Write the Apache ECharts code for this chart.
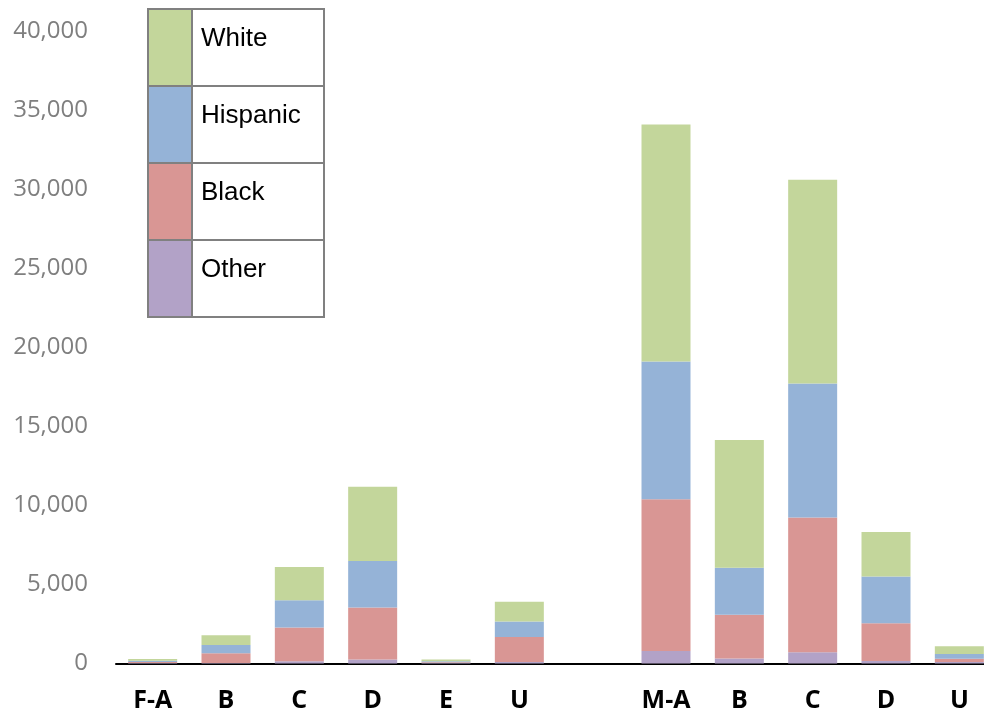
<!DOCTYPE html>
<html>
<head>
<meta charset="utf-8">
<script src="https://cdn.jsdelivr.net/npm/echarts@6/dist/echarts.min.js"></script>
<style>html,body{margin:0;padding:0;background:#fff}#c{width:984px;height:714px}</style>
</head>
<body>
<div id="c"></div>
<script>
const categories = ['F-A','B','C','D','E','U','','M-A','B','C','D','U'];
const other    = [30, 30, 150, 260, 30, 90, null, 790, 310, 710, 160, 90];
const black    = [60, 620, 2120, 3280, 50, 1590, null, 9600, 2780, 8520, 2390, 210];
const hispanic = [90, 525, 1735, 2950, 70, 970, null, 8710, 2970, 8480, 2950, 300];
const white    = [110, 615, 2100, 4680, 110, 1250, null, 14980, 8080, 12890, 2810, 490];
const yTicks = [0, 5000, 10000, 15000, 20000, 25000, 30000, 35000, 40000];

const seriesDefs = [
  {name: 'Other', data: other, color: '#B2A2C7'},
  {name: 'Black', data: black, color: '#D99694'},
  {name: 'Hispanic', data: hispanic, color: '#95B3D7'},
  {name: 'White', data: white, color: '#C3D69B'}
];

// legend table (top to bottom: White, Hispanic, Black, Other)
const legendOrder = seriesDefs.slice().reverse();
const lgLeft = 148, lgTop = 9, rowH = 77, swW = 44, txtW = 132;
const legendGraphics = [];
legendOrder.forEach((s, i) => {
  const y = lgTop + i * rowH;
  legendGraphics.push({type: 'rect', shape: {x: lgLeft, y: y, width: swW, height: rowH},
    style: {fill: s.color, stroke: '#808080', lineWidth: 2}, z: 100});
  legendGraphics.push({type: 'rect', shape: {x: lgLeft + swW, y: y, width: txtW, height: rowH},
    style: {fill: '#fff', stroke: '#808080', lineWidth: 2}, z: 100});
  legendGraphics.push({type: 'text', x: lgLeft + swW + 9, y: y + 30,
    style: {text: s.name, fill: '#000', font: '26px "Liberation Sans", Arial, sans-serif', verticalAlign: 'middle'}, z: 101});
});

const chart = echarts.init(document.getElementById('c'), null, {renderer: 'canvas'});
chart.setOption({
  animation: false,
  grid: {left: 116, width: 880, top: 31, bottom: 50.5, containLabel: false, outerBoundsMode: 'none'},
  xAxis: {
    type: 'category', data: categories,
    axisLine: {show: true, lineStyle: {color: '#000', width: 2}},
    axisTick: {show: false},
    axisLabel: {color: '#000', fontFamily: 'Open Sans', fontWeight: 'bold', fontSize: 25, margin: 25, interval: 0}
  },
  yAxis: {
    type: 'value', min: yTicks[0], max: yTicks[yTicks.length - 1], interval: yTicks[1] - yTicks[0],
    axisLine: {show: false}, axisTick: {show: false}, splitLine: {show: false},
    axisLabel: {color: '#7f7f7f', fontFamily: 'Open Sans', fontSize: 24, margin: 28,
      formatter: v => v.toLocaleString('en-US')}
  },
  series: seriesDefs.map(s => ({
    name: s.name, type: 'bar', stack: 'total', data: s.data, barWidth: 49,
    itemStyle: {color: s.color}
  })),
  graphic: legendGraphics
});
</script>
</body>
</html>
